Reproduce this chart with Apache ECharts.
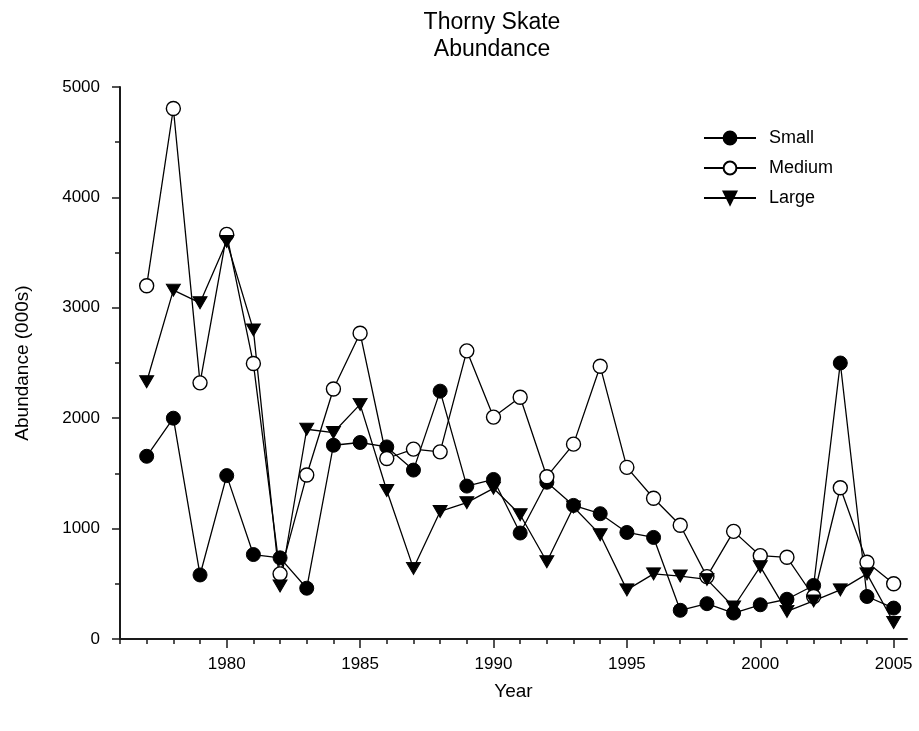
<!DOCTYPE html>
<html>
<head>
<meta charset="utf-8">
<script src="https://cdn.jsdelivr.net/npm/echarts@6/dist/echarts.min.js"></script>
<style>
  html, body { margin: 0; padding: 0; background: #fff; }
  #chart { width: 919px; height: 731px; }
</style>
</head>
<body>
<div id="chart"></div>
<script>
// Survey years and abundance estimates (thousands of fish) by size class
const years = [1977, 1978, 1979, 1980, 1981, 1982, 1983, 1984, 1985, 1986,
               1987, 1988, 1989, 1990, 1991, 1992, 1993, 1994, 1995, 1996,
               1997, 1998, 1999, 2000, 2001, 2002, 2003, 2004, 2005];

const small  = [1655, 2000, 580, 1480, 765, 735, 460, 1755, 1780, 1740,
                1530, 2245, 1385, 1445, 960, 1420, 1210, 1135, 965, 920,
                260, 320, 235, 310, 360, 485, 2500, 385, 280];

const medium = [3200, 4805, 2320, 3665, 2495, 590, 1485, 2265, 2770, 1635,
                1720, 1695, 2610, 2010, 2190, 1470, 1765, 2470, 1555, 1275,
                1030, 565, 975, 755, 740, 385, 1370, 695, 500];

const large  = [2330, 3160, 3045, 3600, 2800, 480, 1900, 1870, 2125, 1345,
                640, 1155, 1235, 1365, 1125, 700, 1195, 945, 445, 590,
                570, 540, 290, 655, 250, 345, 445, 590, 150];

// Axis ticks
const yearTicks = [1976, 1977, 1978, 1979, 1980, 1981, 1982, 1983, 1984, 1985,
                   1986, 1987, 1988, 1989, 1990, 1991, 1992, 1993, 1994, 1995,
                   1996, 1997, 1998, 1999, 2000, 2001, 2002, 2003, 2004, 2005];
const yearLabels = [1980, 1985, 1990, 1995, 2000, 2005];

const FONT = '"Liberation Sans", Arial, Helvetica, sans-serif';
const INK = '#000';

function pairs(vals) {
  return years.map((y, i) => [y, vals[i]]);
}

const chart = echarts.init(document.getElementById('chart'), null, { renderer: 'canvas' });

const axisLineStyle = { color: '#1a1a1a', width: 2 };
const tickLineStyle = { color: '#1a1a1a', width: 1.5 };

chart.setOption({
  animation: false,
  backgroundColor: '#fff',
  textStyle: { fontFamily: FONT, color: INK },
  title: {
    text: 'Thorny Skate\nAbundance',
    left: 487,
    top: 4,
    textAlign: 'center',
    textStyle: { fontFamily: FONT, fontSize: 23, fontWeight: 'normal', color: INK, lineHeight: 27 }
  },
  legend: {
    orient: 'vertical',
    left: 703,
    top: 129,
    padding: 0,
    itemWidth: 52,
    itemHeight: 16,
    itemGap: 12,
    textStyle: { fontFamily: FONT, fontSize: 18, color: INK, padding: [0, 0, 0, 8] },
    data: ['Small', 'Medium', 'Large']
  },
  grid: { left: 120, right: 12, top: 87, bottom: 92, containLabel: false },
  xAxis: [
    {
      type: 'value',
      min: 1976,
      max: 2005.5,
      position: 'bottom',
      name: 'Year',
      nameLocation: 'middle',
      nameGap: 43,
      nameTextStyle: { fontFamily: FONT, fontSize: 19, color: INK },
      axisLine: { show: true, onZero: false, lineStyle: axisLineStyle },
      axisTick: { show: true, inside: false, length: 9, customValues: yearLabels, lineStyle: tickLineStyle },
      axisLabel: { show: true, margin: 17, fontSize: 17, color: INK, fontFamily: FONT,
                   customValues: yearLabels, formatter: v => String(v) },
      splitLine: { show: false }
    },
    {
      type: 'value',
      min: 1976,
      max: 2005.5,
      position: 'bottom',
      axisLine: { show: false, onZero: false },
      axisTick: { show: true, inside: false, length: 5, customValues: yearTicks, lineStyle: tickLineStyle },
      axisLabel: { show: false },
      splitLine: { show: false }
    }
  ],
  yAxis: {
    type: 'value',
    min: 0,
    max: 5000,
    interval: 1000,
    name: 'Abundance (000s)',
    nameLocation: 'middle',
    nameGap: 88,
    nameTextStyle: { fontFamily: FONT, fontSize: 19, color: INK },
    axisLine: { show: true, lineStyle: axisLineStyle },
    axisTick: { show: true, inside: false, length: 8, lineStyle: tickLineStyle },
    minorTick: { show: true, splitNumber: 2, length: 5, lineStyle: tickLineStyle },
    axisLabel: { margin: 20, fontSize: 17, color: INK, fontFamily: FONT, formatter: v => String(v) },
    splitLine: { show: false },
    minorSplitLine: { show: false }
  },
  series: [
    {
      name: 'Small',
      type: 'line',
      data: pairs(small),
      symbol: 'circle',
      symbolSize: 14,
      itemStyle: { color: INK, borderColor: INK, borderWidth: 1 },
      lineStyle: { color: INK, width: 1.3 }
    },
    {
      name: 'Medium',
      type: 'line',
      data: pairs(medium),
      symbol: 'circle',
      symbolSize: 14,
      itemStyle: { color: '#fff', borderColor: INK, borderWidth: 1.4 },
      lineStyle: { color: INK, width: 1.3 }
    },
    {
      name: 'Large',
      type: 'line',
      data: pairs(large),
      symbol: 'triangle',
      symbolRotate: 180,
      symbolSize: [14, 12],
      itemStyle: { color: INK, borderColor: INK, borderWidth: 1 },
      lineStyle: { color: INK, width: 1.3 }
    }
  ]
});
</script>
</body>
</html>
